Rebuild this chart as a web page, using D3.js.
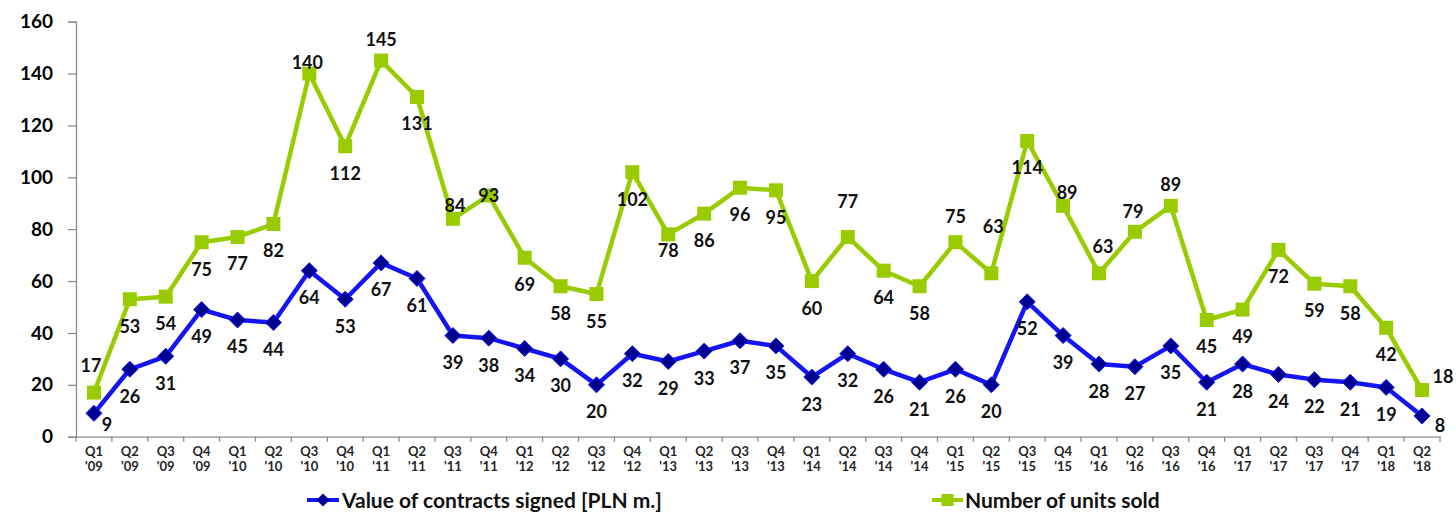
<!DOCTYPE html>
<html><head><meta charset="utf-8">
<script src="https://cdn.jsdelivr.net/npm/d3@7"></script>
<style>
html,body{margin:0;padding:0;background:#fff;}
svg{display:block;font-family:Lato,"Open Sans",sans-serif;}
</style></head>
<body><svg id="c" width="1456" height="520"></svg>
<script>
const quarters = ["Q1","Q2","Q3","Q4","Q1","Q2","Q3","Q4","Q1","Q2","Q3","Q4","Q1","Q2","Q3","Q4","Q1","Q2","Q3","Q4","Q1","Q2","Q3","Q4","Q1","Q2","Q3","Q4","Q1","Q2","Q3","Q4","Q1","Q2","Q3","Q4","Q1","Q2"];
const years = ["'09","'09","'09","'09","'10","'10","'10","'10","'11","'11","'11","'11","'12","'12","'12","'12","'13","'13","'13","'13","'14","'14","'14","'14","'15","'15","'15","'15","'16","'16","'16","'16","'17","'17","'17","'17","'18","'18"];
const contractsValue = [9,26,31,49,45,44,64,53,67,61,39,38,34,30,20,32,29,33,37,35,23,32,26,21,26,20,52,39,28,27,35,21,28,24,22,21,19,8];
const unitsSold = [17,53,54,75,77,82,140,112,145,131,84,93,69,58,55,102,78,86,96,95,60,77,64,58,75,63,114,89,63,79,89,45,49,72,59,58,42,18];
const yTicks = [0,20,40,60,80,100,120,140,160];
const seriesNames = ["Value of contracts signed [PLN m.]","Number of units sold"];

// label placement (layout only): offset of label centre from its point, px
const blueLabelOffset = {0:[13,11],37:[18,10]};
const greenLabelOffset = {0:[-3,-27],6:[-2,-11],8:[0,-21],10:[2,-13],11:[0,0],16:[0,16],21:[0,-35],24:[0,-26],25:[2,-47],27:[4,-13],28:[4,-27],29:[-2,-20],30:[0,-21],37:[21,-13]};

const svg = d3.select("#c");
const mLeft = 76, mRight = 1440, mTop = 21.7, mBottom = 436.7;
const idx = d3.range(quarters.length);
const x = d3.scaleBand().domain(idx).range([mLeft, mRight]).padding(0);
const y = d3.scaleLinear().domain([0,160]).range([mBottom, mTop]);
const cx = i => x(i) + x.bandwidth()/2;

const axisCol = "#8c8c8c";
// y axis
const yAxis = d3.axisLeft(y).tickValues(yTicks).tickSize(8).tickPadding(15);
const yg = svg.append("g").attr("transform",`translate(${mLeft},0)`).call(yAxis);
yg.select(".domain").attr("stroke",axisCol).attr("stroke-width",1.3);
yg.selectAll(".tick line").attr("stroke",axisCol).attr("stroke-width",1.3);
yg.selectAll(".tick text").attr("font-family","Lato").attr("font-weight","bold").attr("font-size","19px").attr("fill","#000");

// x axis
const xAxis = d3.axisBottom(x).tickSize(0).tickFormat("");
const xg = svg.append("g").attr("transform",`translate(0,${mBottom})`).call(xAxis);
xg.select(".domain").attr("stroke",axisCol).attr("stroke-width",1.3);
const bounds = d3.range(quarters.length+1).map(i => mLeft + i*x.bandwidth());
xg.selectAll("line.bt").data(bounds).enter().append("line").attr("class","bt")
  .attr("x1",d=>d).attr("x2",d=>d).attr("y1",0).attr("y2",5)
  .attr("stroke",axisCol).attr("stroke-width",1.3);
const xl = svg.append("g");
xl.selectAll("text").data(idx).enter().append("text")
  .attr("x",i=>cx(i)).attr("y",456).attr("text-anchor","middle")
  .attr("font-family","Lato").attr("font-weight","bold").attr("font-size","13px").attr("fill","#262626")
  .each(function(i){
    const t = d3.select(this);
    t.append("tspan").attr("x",cx(i)).attr("dy",0).text(quarters[i]);
    t.append("tspan").attr("x",cx(i)).attr("dy",15).text(years[i]);
  });

const blue = "#1414f5", navy = "#000090", green = "#99cc00";
const line = d3.line().x((d,i)=>cx(i)).y(d=>y(d));

// green series
svg.append("path").datum(unitsSold).attr("d",line).attr("fill","none")
  .attr("stroke",green).attr("stroke-width",4.5).attr("stroke-linejoin","round");
const sq = 14;
svg.selectAll("rect.g").data(unitsSold).enter().append("rect").attr("class","g")
  .attr("x",(d,i)=>cx(i)-sq/2).attr("y",d=>y(d)-sq/2).attr("width",sq).attr("height",sq)
  .attr("fill",green);

// blue series
svg.append("path").datum(contractsValue).attr("d",line).attr("fill","none")
  .attr("stroke",blue).attr("stroke-width",4.5).attr("stroke-linejoin","round");
const dm = 8;
svg.selectAll("path.dm").data(contractsValue).enter().append("path").attr("class","dm")
  .attr("d",(d,i)=>`M${cx(i)},${y(d)-dm}L${cx(i)+dm},${y(d)}L${cx(i)},${y(d)+dm}L${cx(i)-dm},${y(d)}Z`)
  .attr("fill",navy).attr("stroke",blue).attr("stroke-width",1);

// labels
function labels(data, offs){
  svg.append("g").selectAll("text").data(data).enter().append("text")
    .attr("x",(d,i)=>cx(i)+(offs[i]?offs[i][0]:0))
    .attr("y",(d,i)=>y(d)+(offs[i]?offs[i][1]:27))
    .attr("dy","0.36em").attr("text-anchor","middle")
    .attr("font-family","Lato").attr("font-weight","bold").attr("font-size","18px").attr("fill","#111")
    .text(d=>d);
}
labels(unitsSold, greenLabelOffset);
labels(contractsValue, blueLabelOffset);

// legend
const lg = svg.append("g");
const ly = 500;
lg.append("line").attr("x1",307).attr("x2",339).attr("y1",ly).attr("y2",ly).attr("stroke",blue).attr("stroke-width",4);
lg.append("path").attr("d",`M323,${ly-6.5}L329.5,${ly}L323,${ly+6.5}L316.5,${ly}Z`).attr("fill",navy);
lg.append("text").attr("x",342).attr("y",ly).attr("dy","0.36em").attr("font-family","Lato").attr("font-weight","bold")
  .attr("font-size","21px").attr("fill","#111").text(seriesNames[0]);
lg.append("line").attr("x1",932).attr("x2",963).attr("y1",ly).attr("y2",ly).attr("stroke",green).attr("stroke-width",4);
lg.append("rect").attr("x",941.5).attr("y",ly-6).attr("width",12).attr("height",12).attr("fill",green);
lg.append("text").attr("x",965).attr("y",ly).attr("dy","0.36em").attr("font-family","Lato").attr("font-weight","bold")
  .attr("font-size","21px").attr("fill","#111").text(seriesNames[1]);
</script></body></html>
